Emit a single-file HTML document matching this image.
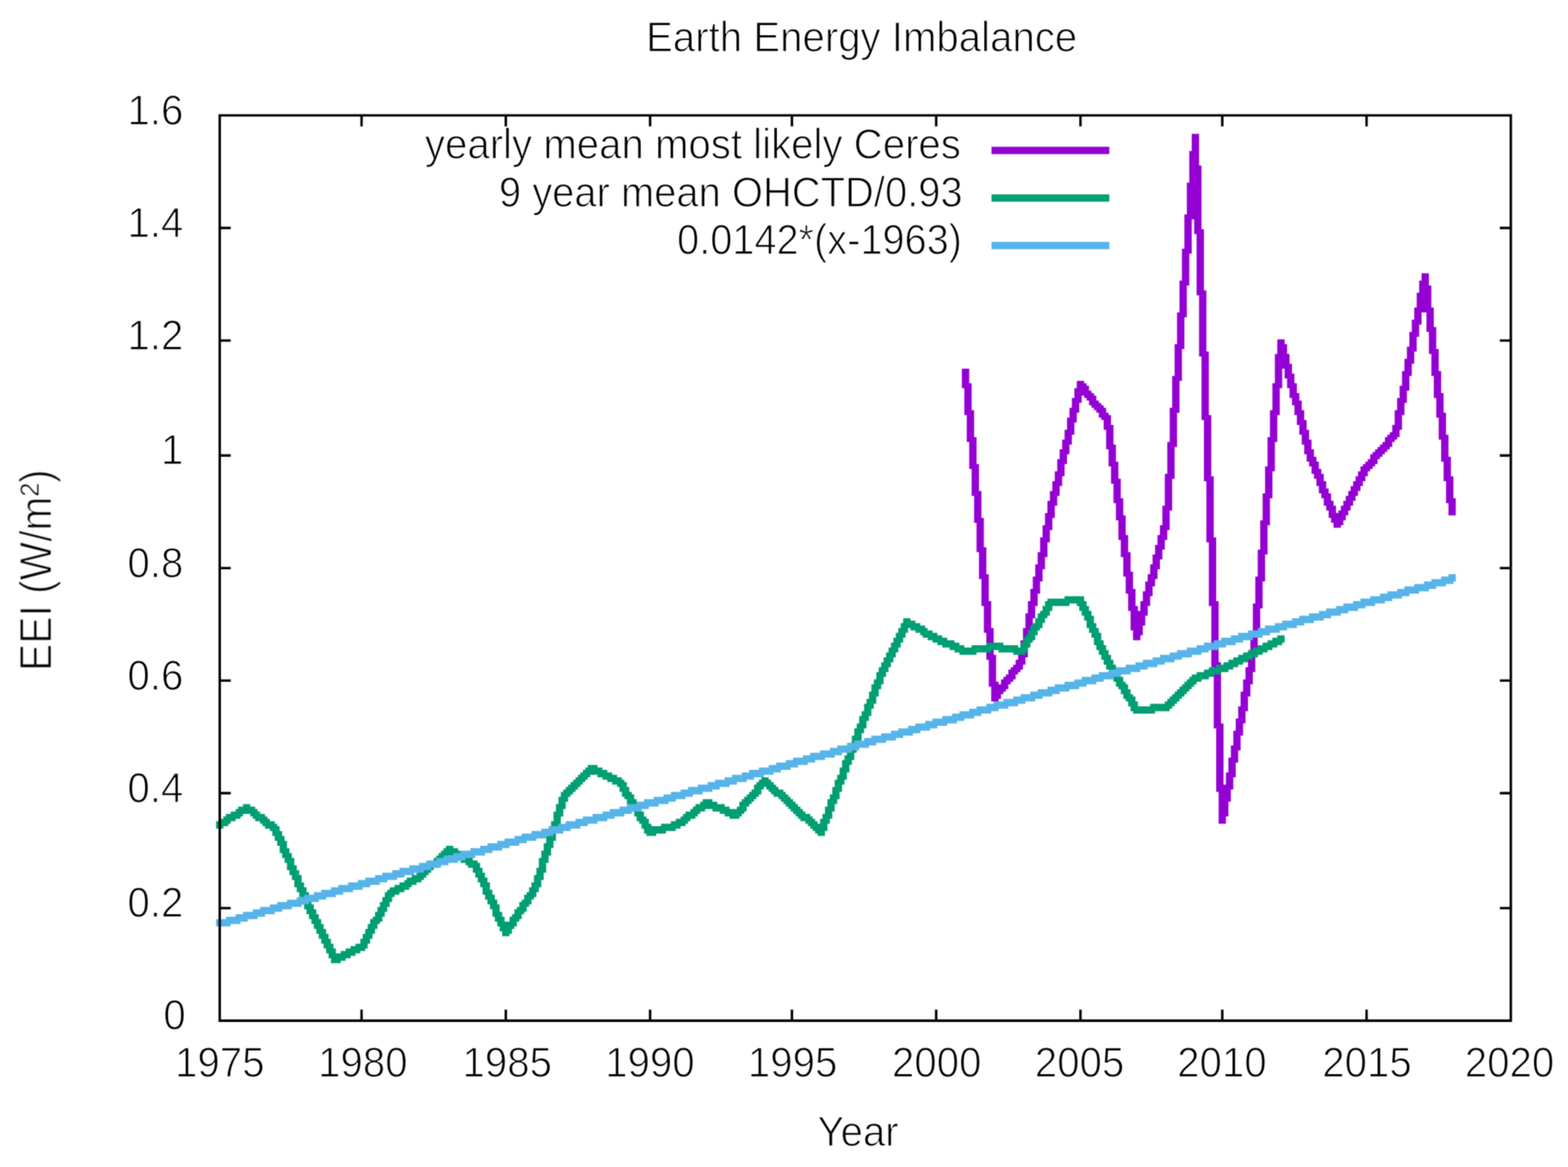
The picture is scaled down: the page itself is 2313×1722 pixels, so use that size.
<!DOCTYPE html>
<html lang="en"><head><meta charset="utf-8"><title>Earth Energy Imbalance</title>
<style>html,body{margin:0;padding:0;background:#ffffff}body{width:2313px;height:1722px;overflow:hidden}svg{display:block}</style></head>
<body>
<svg width="2313" height="1722" viewBox="0 0 2313 1722">
<defs><filter id="b" color-interpolation-filters="sRGB" x="0" y="0" width="2313" height="1722" filterUnits="userSpaceOnUse"><feConvolveMatrix order="3" kernelMatrix="0.0484 0.1232 0.0484 0.1232 0.3136 0.1232 0.0484 0.1232 0.0484" edgeMode="none" preserveAlpha="false"/></filter></defs>
<rect width="2313" height="1722" fill="#ffffff"/>
<g filter="url(#b)">
<g>
<path fill="#9400d3" d="M1757.94 197.38H1768.76V222.65H1757.94ZM1754.33 222.65H1768.76V244.31H1754.33ZM1754.33 244.31H1772.37V269.58H1754.33ZM1750.72 269.58H1772.37V316.52H1750.72ZM1747.12 316.52H1772.37V323.74H1747.12ZM1761.55 323.74H1772.37V338.18H1761.55ZM1761.55 338.18H1775.97V345.40H1761.55ZM1747.12 323.74H1757.94V367.06H1747.12ZM1743.51 367.06H1757.94V374.28H1743.51ZM1743.51 374.28H1754.33V413.99H1743.51ZM2097.00 403.16H2107.82V413.99H2097.00ZM1739.90 413.99H1754.33V421.21H1739.90ZM2093.40 413.99H2107.82V421.21H2093.40ZM1765.15 345.40H1775.97V428.43H1765.15ZM2093.40 421.21H2111.43V432.04H2093.40ZM1765.15 428.43H1779.58V435.65H1765.15ZM2089.79 432.04H2111.43V453.71H2089.79ZM1739.90 421.21H1750.72V460.93H1739.90ZM2086.18 453.71H2115.04V460.93H2086.18ZM1736.30 460.93H1750.72V468.15H1736.30ZM2086.18 460.93H2097.00V471.76H2086.18ZM2082.57 471.76H2097.00V478.98H2082.57ZM2104.22 460.93H2115.04V482.59H2104.22ZM2082.57 478.98H2093.40V489.81H2082.57ZM2104.22 482.59H2118.64V489.81H2104.22ZM2078.97 489.81H2093.40V497.03H2078.97ZM1736.30 468.15H1747.12V507.86H1736.30ZM1884.19 500.64H1895.01V507.86H1884.19ZM2078.97 497.03H2089.79V511.47H2078.97ZM2107.82 489.81H2118.64V515.08H2107.82ZM1732.69 507.86H1747.12V515.08H1732.69ZM1768.76 435.65H1779.58V518.69H1768.76ZM2075.36 511.47H2089.79V518.69H2075.36ZM1884.19 507.86H1898.61V522.30H1884.19ZM2107.82 515.08H2122.25V522.30H2107.82ZM1768.76 518.69H1783.19V525.91H1768.76ZM2075.36 518.69H2086.18V529.52H2075.36ZM1880.58 522.30H1902.22V536.74H1880.58ZM2071.75 529.52H2086.18V536.74H2071.75ZM1880.58 536.74H1905.83V543.96H1880.58ZM2111.43 522.30H2122.25V547.57H2111.43ZM2071.75 536.74H2082.57V547.57H2071.75ZM1895.01 543.96H1905.83V551.18H1895.01ZM1732.69 515.08H1743.51V554.79H1732.69ZM2068.15 547.57H2082.57V554.79H2068.15ZM2111.43 547.57H2125.86V554.79H2111.43ZM1895.01 551.18H1909.43V558.40H1895.01ZM1729.08 554.79H1743.51V562.01H1729.08ZM1880.58 543.96H1891.40V565.62H1880.58ZM1418.87 543.96H1429.70V565.62H1418.87ZM1898.61 558.40H1909.43V565.62H1898.61ZM1588.41 562.01H1599.23V565.62H1588.41ZM2068.15 554.79H2078.97V569.23H2068.15ZM1588.41 565.62H1602.83V569.23H1588.41ZM1876.97 565.62H1891.40V572.85H1876.97ZM1418.87 565.62H1433.30V572.85H1418.87ZM1898.61 565.62H1913.04V572.85H1898.61ZM1588.41 569.23H1606.44V572.85H1588.41ZM2064.54 569.23H2078.97V576.46H2064.54ZM1584.80 572.85H1606.44V576.46H1584.80ZM2115.04 554.79H2125.86V580.07H2115.04ZM1902.22 572.85H1913.04V580.07H1902.22ZM1584.80 576.46H1610.05V580.07H1584.80ZM1584.80 580.07H1613.66V583.68H1584.80ZM2064.54 576.46H2075.36V587.29H2064.54ZM1902.22 580.07H1916.65V587.29H1902.22ZM2115.04 580.07H2129.47V587.29H2115.04ZM1584.80 583.68H1595.62V587.29H1584.80ZM1599.23 583.68H1617.26V587.29H1599.23ZM1905.83 587.29H1916.65V590.90H1905.83ZM1602.83 587.29H1617.26V590.90H1602.83ZM1581.19 587.29H1595.62V594.51H1581.19ZM2060.93 587.29H2075.36V594.51H2060.93ZM1606.44 590.90H1620.87V594.51H1606.44ZM1905.83 590.90H1920.26V598.12H1905.83ZM1606.44 594.51H1624.48V598.12H1606.44ZM1729.08 562.01H1739.90V601.73H1729.08ZM1581.19 594.51H1592.01V601.73H1581.19ZM1610.05 598.12H1628.08V601.73H1610.05ZM1876.97 572.85H1887.79V605.34H1876.97ZM1422.48 572.85H1433.30V605.34H1422.48ZM2060.93 594.51H2071.75V605.34H2060.93ZM1909.43 598.12H1920.26V605.34H1909.43ZM1613.66 601.73H1631.69V605.34H1613.66ZM2118.64 587.29H2129.47V608.95H2118.64ZM1725.47 601.73H1739.90V608.95H1725.47ZM1577.58 601.73H1592.01V608.95H1577.58ZM1617.26 605.34H1631.69V608.95H1617.26ZM1772.37 525.91H1783.19V612.56H1772.37ZM1909.43 605.34H1923.86V612.56H1909.43ZM1422.48 605.34H1436.91V612.56H1422.48ZM1873.36 605.34H1887.79V612.56H1873.36ZM2057.32 605.34H2071.75V612.56H2057.32ZM1620.87 608.95H1635.30V612.56H1620.87ZM2118.64 608.95H2133.07V616.17H2118.64ZM1577.58 608.95H1588.41V616.17H1577.58ZM1620.87 612.56H1638.90V616.17H1620.87ZM1913.04 612.56H1923.86V619.78H1913.04ZM1772.37 612.56H1786.79V619.78H1772.37ZM1624.48 616.17H1638.90V619.78H1624.48ZM1573.98 616.17H1588.41V623.39H1573.98ZM2057.32 612.56H2068.15V627.00H2057.32ZM1628.08 619.78H1638.90V627.00H1628.08ZM1913.04 619.78H1927.47V627.00H1913.04ZM1573.98 623.39H1584.80V634.22H1573.98ZM1628.08 627.00H1642.51V634.22H1628.08ZM2053.72 627.00H2068.15V634.22H2053.72ZM1916.65 627.00H1927.47V634.22H1916.65ZM2053.72 634.22H2064.54V637.83H2053.72ZM2122.25 616.17H2133.07V641.44H2122.25ZM1916.65 634.22H1931.08V641.44H1916.65ZM1570.37 634.22H1584.80V641.44H1570.37ZM2050.11 637.83H2064.54V641.44H2050.11ZM1426.09 612.56H1436.91V645.05H1426.09ZM1873.36 612.56H1884.19V645.05H1873.36ZM2046.50 641.44H2064.54V645.05H2046.50ZM1920.26 641.44H1931.08V648.66H1920.26ZM2122.25 641.44H2136.68V648.66H2122.25ZM1570.37 641.44H1581.19V648.66H1570.37ZM2042.90 645.05H2060.93V648.66H2042.90ZM1725.47 608.95H1736.30V652.27H1725.47ZM1426.09 645.05H1440.52V652.27H1426.09ZM1869.76 645.05H1884.19V652.27H1869.76ZM2042.90 648.66H2057.32V652.27H2042.90ZM1631.69 634.22H1642.51V655.88H1631.69ZM1920.26 648.66H1934.68V655.88H1920.26ZM1566.76 648.66H1581.19V655.88H1566.76ZM2039.29 652.27H2053.72V655.88H2039.29ZM1721.87 652.27H1736.30V659.49H1721.87ZM2035.68 655.88H2053.72V659.49H2035.68ZM1923.86 655.88H1934.68V663.10H1923.86ZM1631.69 655.88H1646.12V663.10H1631.69ZM1566.76 655.88H1577.58V663.10H1566.76ZM2032.07 659.49H2050.11V663.10H2032.07ZM2028.47 663.10H2046.50V666.71H2028.47ZM1563.16 663.10H1577.58V670.32H1563.16ZM1923.86 663.10H1938.29V670.32H1923.86ZM2024.86 666.71H2042.90V670.32H2024.86ZM2125.86 648.66H2136.68V673.93H2125.86ZM2021.25 670.32H2039.29V673.93H2021.25ZM1927.47 670.32H1938.29V673.93H1927.47ZM1563.16 670.32H1573.98V677.54H1563.16ZM2021.25 673.93H2035.68V677.54H2021.25ZM1635.30 663.10H1646.12V681.15H1635.30ZM2125.86 673.93H2140.29V681.15H2125.86ZM1927.47 673.93H1941.90V681.15H1927.47ZM2017.65 677.54H2032.07V681.15H2017.65ZM1429.70 652.27H1440.52V684.76H1429.70ZM1559.55 677.54H1573.98V684.76H1559.55ZM2014.04 681.15H2032.07V684.76H2014.04ZM1869.76 652.27H1880.58V688.37H1869.76ZM1931.08 681.15H1945.51V688.37H1931.08ZM1635.30 681.15H1649.73V688.37H1635.30ZM2010.43 684.76H2028.47V688.37H2010.43ZM1429.70 684.76H1444.12V691.98H1429.70ZM1934.68 688.37H1945.51V691.98H1934.68ZM2006.83 688.37H2024.86V691.98H2006.83ZM1559.55 684.76H1570.37V695.59H1559.55ZM1866.15 688.37H1880.58V695.59H1866.15ZM2006.83 691.98H2021.25V695.59H2006.83ZM1721.87 659.49H1732.69V699.20H1721.87ZM1934.68 691.98H1949.11V699.20H1934.68ZM1775.97 619.78H1786.79V702.81H1775.97ZM2129.47 681.15H2140.29V702.81H2129.47ZM1555.94 695.59H1570.37V702.81H1555.94ZM2003.22 695.59H2017.65V702.81H2003.22ZM1638.90 688.37H1649.73V706.43H1638.90ZM1718.26 699.20H1732.69V706.43H1718.26ZM1938.29 699.20H1952.72V706.43H1938.29ZM1999.61 702.81H2014.04V710.04H1999.61ZM2129.47 702.81H2143.89V710.04H2129.47ZM1775.97 702.81H1790.40V710.04H1775.97ZM1555.94 702.81H1566.76V710.04H1555.94ZM1941.90 706.43H1952.72V710.04H1941.90ZM1638.90 706.43H1653.33V713.65H1638.90ZM1941.90 710.04H1956.33V717.26H1941.90ZM1996.00 710.04H2010.43V717.26H1996.00ZM1552.34 710.04H1566.76V717.26H1552.34ZM1945.51 717.26H1956.33V720.87H1945.51ZM1433.30 691.98H1444.12V724.48H1433.30ZM1552.34 717.26H1563.16V724.48H1552.34ZM1992.40 717.26H2006.83V724.48H1992.40ZM1866.15 695.59H1876.97V728.09H1866.15ZM1945.51 720.87H1959.93V728.09H1945.51ZM1433.30 724.48H1447.73V731.70H1433.30ZM1548.73 724.48H1563.16V731.70H1548.73ZM1988.79 724.48H2003.22V731.70H1988.79ZM2133.07 710.04H2143.89V735.31H2133.07ZM1642.51 713.65H1653.33V735.31H1642.51ZM1862.54 728.09H1876.97V735.31H1862.54ZM1949.11 728.09H1963.54V735.31H1949.11ZM1548.73 731.70H1559.55V738.92H1548.73ZM1985.18 731.70H1999.61V738.92H1985.18ZM1952.72 735.31H1963.54V738.92H1952.72ZM2133.07 735.31H2147.50V742.53H2133.07ZM1642.51 735.31H1656.94V742.53H1642.51ZM1718.26 706.43H1729.08V746.14H1718.26ZM1981.58 738.92H1996.00V746.14H1981.58ZM1952.72 738.92H1967.15V746.14H1952.72ZM1545.12 738.92H1559.55V746.14H1545.12ZM1956.33 746.14H1970.75V753.36H1956.33ZM1977.97 746.14H1992.40V753.36H1977.97ZM1714.65 746.14H1729.08V753.36H1714.65ZM1545.12 746.14H1555.94V756.97H1545.12ZM1974.36 753.36H1988.79V756.97H1974.36ZM1959.93 753.36H1970.75V756.97H1959.93ZM1646.12 742.53H1656.94V760.58H1646.12ZM2136.68 742.53H2147.50V760.58H2136.68ZM1959.93 756.97H1988.79V760.58H1959.93ZM1436.91 731.70H1447.73V764.19H1436.91ZM1541.51 756.97H1555.94V764.19H1541.51ZM1959.93 760.58H1985.18V764.19H1959.93ZM1862.54 735.31H1873.36V767.80H1862.54ZM1646.12 760.58H1660.55V767.80H1646.12ZM1963.54 764.19H1985.18V767.80H1963.54ZM1436.91 764.19H1451.34V771.41H1436.91ZM1963.54 767.80H1981.58V771.41H1963.54ZM1714.65 753.36H1725.47V775.02H1714.65ZM1541.51 764.19H1552.34V775.02H1541.51ZM1858.94 767.80H1873.36V775.02H1858.94ZM1967.15 771.41H1981.58V775.02H1967.15ZM1967.15 775.02H1977.97V778.63H1967.15ZM1711.05 775.02H1725.47V782.24H1711.05ZM1537.91 775.02H1552.34V782.24H1537.91ZM1649.73 767.80H1660.55V789.46H1649.73ZM1711.05 782.24H1721.87V789.46H1711.05ZM1779.58 710.04H1790.40V793.07H1779.58ZM1537.91 782.24H1548.73V793.07H1537.91ZM1649.73 789.46H1664.15V796.68H1649.73ZM1707.44 789.46H1721.87V796.68H1707.44ZM1534.30 793.07H1548.73V800.29H1534.30ZM1779.58 793.07H1794.01V800.29H1779.58ZM1707.44 796.68H1718.26V803.90H1707.44ZM1440.52 771.41H1451.34V807.51H1440.52ZM1858.94 775.02H1869.76V811.12H1858.94ZM1703.83 803.90H1718.26V811.12H1703.83ZM1653.33 796.68H1664.15V814.73H1653.33ZM1534.30 800.29H1545.12V814.73H1534.30ZM1440.52 807.51H1454.94V814.73H1440.52ZM1703.83 811.12H1714.65V818.34H1703.83ZM1855.33 811.12H1869.76V818.34H1855.33ZM1653.33 814.73H1667.76V821.95H1653.33ZM1530.69 814.73H1545.12V821.95H1530.69ZM1700.23 818.34H1714.65V825.56H1700.23ZM1530.69 821.95H1541.51V832.78H1530.69ZM1700.23 825.56H1711.05V832.78H1700.23ZM1527.09 832.78H1541.51V840.01H1527.09ZM1696.62 832.78H1711.05V840.01H1696.62ZM1656.94 821.95H1667.76V843.62H1656.94ZM1444.12 814.73H1454.94V847.23H1444.12ZM1696.62 840.01H1707.44V847.23H1696.62ZM1855.33 818.34H1866.15V850.84H1855.33ZM1527.09 840.01H1537.91V850.84H1527.09ZM1656.94 843.62H1671.37V850.84H1656.94ZM1444.12 847.23H1458.55V854.45H1444.12ZM1693.01 847.23H1707.44V854.45H1693.01ZM1851.72 850.84H1866.15V858.06H1851.72ZM1523.48 850.84H1537.91V858.06H1523.48ZM1693.01 854.45H1703.83V858.06H1693.01ZM1689.40 858.06H1703.83V865.28H1689.40ZM1660.55 850.84H1671.37V868.89H1660.55ZM1523.48 858.06H1534.30V868.89H1523.48ZM1689.40 865.28H1700.23V872.50H1689.40ZM1660.55 868.89H1674.98V876.11H1660.55ZM1519.87 868.89H1534.30V876.11H1519.87ZM1685.80 872.50H1700.23V879.72H1685.80ZM1783.19 800.29H1794.01V886.94H1783.19ZM1447.73 854.45H1458.55V886.94H1447.73ZM1519.87 876.11H1530.69V886.94H1519.87ZM1685.80 879.72H1696.62V886.94H1685.80ZM1851.72 858.06H1862.54V890.55H1851.72ZM1664.15 876.11H1674.98V894.16H1664.15ZM1783.19 886.94H1797.62V894.16H1783.19ZM1516.26 886.94H1530.69V894.16H1516.26ZM1447.73 886.94H1462.16V894.16H1447.73ZM1682.19 886.94H1696.62V894.16H1682.19ZM1848.11 890.55H1862.54V897.77H1848.11ZM1682.19 894.16H1693.01V901.38H1682.19ZM1664.15 894.16H1678.58V901.38H1664.15ZM1516.26 894.16H1527.09V904.99H1516.26ZM1667.76 901.38H1693.01V908.60H1667.76ZM1512.66 904.99H1527.09V912.21H1512.66ZM1667.76 908.60H1689.40V923.04H1667.76ZM1451.34 894.16H1462.16V926.65H1451.34ZM1512.66 912.21H1523.48V926.65H1512.66ZM1667.76 923.04H1685.80V930.26H1667.76ZM1848.11 897.77H1858.94V933.87H1848.11ZM1509.05 926.65H1523.48V933.87H1509.05ZM1451.34 926.65H1465.77V933.87H1451.34ZM1671.37 930.26H1685.80V937.48H1671.37ZM1844.51 933.87H1858.94V941.09H1844.51ZM1509.05 933.87H1519.87V944.70H1509.05ZM1671.37 937.48H1682.19V944.70H1671.37ZM1505.44 944.70H1519.87V951.92H1505.44ZM1844.51 941.09H1855.33V962.75H1844.51ZM1505.44 951.92H1516.26V962.75H1505.44ZM1454.94 933.87H1465.77V966.36H1454.94ZM1840.90 962.75H1855.33V969.97H1840.90ZM1501.84 962.75H1516.26V969.97H1501.84ZM1454.94 966.36H1469.37V973.59H1454.94ZM1501.84 969.97H1512.66V973.59H1501.84ZM1786.79 894.16H1797.62V977.20H1786.79ZM1498.23 973.59H1512.66V980.81H1498.23ZM1840.90 969.97H1851.72V984.42H1840.90ZM1786.79 977.20H1801.22V984.42H1786.79ZM1494.62 980.81H1509.05V984.42H1494.62ZM1491.02 984.42H1509.05V988.03H1491.02ZM1837.29 984.42H1851.72V991.64H1837.29ZM1487.41 988.03H1505.44V991.64H1487.41ZM1487.41 991.64H1501.84V995.25H1487.41ZM1483.80 995.25H1498.23V998.86H1483.80ZM1837.29 991.64H1848.11V1002.47H1837.29ZM1480.19 998.86H1498.23V1002.47H1480.19ZM1458.55 973.59H1469.37V1006.08H1458.55ZM1476.59 1002.47H1494.62V1006.08H1476.59ZM1833.69 1002.47H1848.11V1009.69H1833.69ZM1458.55 1006.08H1472.98V1009.69H1458.55ZM1476.59 1006.08H1491.02V1009.69H1476.59ZM1458.55 1009.69H1487.41V1013.30H1458.55ZM1462.16 1013.30H1487.41V1016.91H1462.16ZM1833.69 1009.69H1844.51V1020.52H1833.69ZM1462.16 1016.91H1483.80V1020.52H1462.16ZM1462.16 1020.52H1480.19V1024.13H1462.16ZM1830.08 1020.52H1844.51V1027.74H1830.08ZM1462.16 1024.13H1476.59V1031.35H1462.16ZM1462.16 1031.35H1472.98V1034.96H1462.16ZM1830.08 1027.74H1840.90V1042.18H1830.08ZM1826.47 1042.18H1840.90V1049.40H1826.47ZM1826.47 1049.40H1837.29V1060.23H1826.47ZM1790.40 984.42H1801.22V1067.45H1790.40ZM1822.87 1060.23H1837.29V1067.45H1822.87ZM1790.40 1067.45H1804.83V1074.67H1790.40ZM1822.87 1067.45H1833.69V1078.28H1822.87ZM1819.26 1078.28H1833.69V1085.50H1819.26ZM1819.26 1085.50H1830.08V1099.94H1819.26ZM1815.65 1099.94H1830.08V1107.17H1815.65ZM1815.65 1107.17H1826.47V1118.00H1815.65ZM1812.04 1118.00H1826.47V1125.22H1812.04ZM1812.04 1125.22H1822.87V1139.66H1812.04ZM1808.44 1139.66H1822.87V1146.88H1808.44ZM1794.01 1074.67H1804.83V1157.71H1794.01ZM1808.44 1146.88H1819.26V1157.71H1808.44ZM1794.01 1157.71H1819.26V1164.93H1794.01ZM1794.01 1164.93H1815.65V1168.54H1794.01ZM1797.62 1168.54H1815.65V1182.98H1797.62ZM1797.62 1182.98H1812.04V1204.64H1797.62ZM1797.62 1204.64H1808.44V1215.47H1797.62Z"/>
<path fill="#009e73" d="M1570.37 879.72H1599.23V883.33H1570.37ZM1545.12 883.33H1599.23V886.94H1545.12ZM1541.51 886.94H1602.83V890.55H1541.51ZM1588.41 890.55H1602.83V894.16H1588.41ZM1541.51 890.55H1577.58V894.16H1541.51ZM1537.91 894.16H1552.34V901.38H1537.91ZM1592.01 894.16H1606.44V901.38H1592.01ZM1534.30 901.38H1548.73V904.99H1534.30ZM1595.62 901.38H1610.05V908.60H1595.62ZM1530.69 904.99H1548.73V908.60H1530.69ZM1530.69 908.60H1545.12V912.21H1530.69ZM1599.23 908.60H1613.66V915.82H1599.23ZM1332.30 912.21H1343.13V915.82H1332.30ZM1527.09 912.21H1541.51V919.43H1527.09ZM1332.30 915.82H1350.34V919.43H1332.30ZM1602.83 915.82H1613.66V919.43H1602.83ZM1523.48 919.43H1537.91V923.04H1523.48ZM1328.70 919.43H1357.55V923.04H1328.70ZM1602.83 919.43H1617.26V926.65H1602.83ZM1328.70 923.04H1364.77V926.65H1328.70ZM1519.87 923.04H1537.91V926.65H1519.87ZM1343.13 926.65H1368.38V930.26H1343.13ZM1519.87 926.65H1534.30V930.26H1519.87ZM1606.44 926.65H1620.87V933.87H1606.44ZM1325.09 926.65H1339.52V933.87H1325.09ZM1350.34 930.26H1375.59V933.87H1350.34ZM1516.26 930.26H1530.69V937.48H1516.26ZM1357.55 933.87H1382.80V937.48H1357.55ZM1610.05 933.87H1624.48V941.09H1610.05ZM1321.48 933.87H1335.91V941.09H1321.48ZM1361.16 937.48H1390.02V941.09H1361.16ZM1512.66 937.48H1527.09V941.09H1512.66ZM1884.19 937.48H1895.01V941.09H1884.19ZM1368.38 941.09H1397.23V944.70H1368.38ZM1876.97 941.09H1895.01V944.70H1876.97ZM1509.05 941.09H1527.09V944.70H1509.05ZM1613.66 941.09H1624.48V944.70H1613.66ZM1317.88 941.09H1332.30V948.31H1317.88ZM1375.59 944.70H1408.05V948.31H1375.59ZM1869.76 944.70H1895.01V948.31H1869.76ZM1509.05 944.70H1523.48V948.31H1509.05ZM1613.66 944.70H1628.08V951.92H1613.66ZM1382.80 948.31H1415.27V951.92H1382.80ZM1862.54 948.31H1891.40V951.92H1862.54ZM1454.94 948.31H1480.19V951.92H1454.94ZM1314.27 948.31H1328.70V955.53H1314.27ZM1505.44 948.31H1519.87V955.53H1505.44ZM1433.30 951.92H1501.84V955.53H1433.30ZM1390.02 951.92H1422.48V955.53H1390.02ZM1855.33 951.92H1884.19V955.53H1855.33ZM1617.26 951.92H1631.69V959.14H1617.26ZM1400.84 955.53H1516.26V959.14H1400.84ZM1848.11 955.53H1876.97V959.14H1848.11ZM1310.66 955.53H1325.09V962.75H1310.66ZM1408.05 959.14H1462.16V962.75H1408.05ZM1472.98 959.14H1516.26V962.75H1472.98ZM1840.90 959.14H1869.76V962.75H1840.90ZM1620.87 959.14H1635.30V966.36H1620.87ZM1833.69 962.75H1862.54V966.36H1833.69ZM1415.27 962.75H1440.52V966.36H1415.27ZM1494.62 962.75H1512.66V966.36H1494.62ZM1307.06 962.75H1321.48V969.97H1307.06ZM1826.47 966.36H1855.33V969.97H1826.47ZM1624.48 966.36H1638.90V973.59H1624.48ZM1819.26 969.97H1848.11V973.59H1819.26ZM1303.45 969.97H1317.88V977.20H1303.45ZM1812.04 973.59H1840.90V977.20H1812.04ZM1628.08 973.59H1642.51V980.81H1628.08ZM1804.83 977.20H1833.69V980.81H1804.83ZM1299.84 977.20H1314.27V984.42H1299.84ZM1794.01 980.81H1826.47V984.42H1794.01ZM1631.69 980.81H1646.12V988.03H1631.69ZM1783.19 984.42H1819.26V988.03H1783.19ZM1296.23 984.42H1310.66V991.64H1296.23ZM1775.97 988.03H1812.04V991.64H1775.97ZM1635.30 988.03H1649.73V991.64H1635.30ZM1765.15 991.64H1801.22V995.25H1765.15ZM1635.30 991.64H1653.33V995.25H1635.30ZM1292.63 991.64H1307.06V998.86H1292.63ZM1757.94 995.25H1790.40V998.86H1757.94ZM1638.90 995.25H1653.33V998.86H1638.90ZM1754.33 998.86H1783.19V1002.47H1754.33ZM1292.63 998.86H1303.45V1002.47H1292.63ZM1642.51 998.86H1656.94V1006.08H1642.51ZM1750.72 1002.47H1772.37V1006.08H1750.72ZM1289.02 1002.47H1303.45V1009.69H1289.02ZM1646.12 1006.08H1660.55V1009.69H1646.12ZM1747.12 1006.08H1765.15V1009.69H1747.12ZM1743.51 1009.69H1761.55V1013.30H1743.51ZM1646.12 1009.69H1664.15V1013.30H1646.12ZM1285.41 1009.69H1299.84V1016.91H1285.41ZM1739.90 1013.30H1757.94V1016.91H1739.90ZM1649.73 1013.30H1664.15V1016.91H1649.73ZM1285.41 1016.91H1296.23V1020.52H1285.41ZM1736.30 1016.91H1754.33V1020.52H1736.30ZM1653.33 1016.91H1667.76V1024.13H1653.33ZM1732.69 1020.52H1750.72V1024.13H1732.69ZM1281.81 1020.52H1296.23V1027.74H1281.81ZM1656.94 1024.13H1671.37V1027.74H1656.94ZM1729.08 1024.13H1747.12V1027.74H1729.08ZM1281.81 1027.74H1292.63V1031.35H1281.81ZM1656.94 1027.74H1674.98V1031.35H1656.94ZM1725.47 1027.74H1743.51V1031.35H1725.47ZM1721.87 1031.35H1739.90V1034.96H1721.87ZM1660.55 1031.35H1674.98V1034.96H1660.55ZM1278.20 1031.35H1292.63V1038.57H1278.20ZM1718.26 1034.96H1736.30V1038.57H1718.26ZM1664.15 1034.96H1678.58V1042.18H1664.15ZM1696.62 1038.57H1732.69V1042.18H1696.62ZM1274.59 1038.57H1289.02V1045.79H1274.59ZM1667.76 1042.18H1729.08V1045.79H1667.76ZM1274.59 1045.79H1285.41V1049.40H1274.59ZM1667.76 1045.79H1725.47V1049.40H1667.76ZM1671.37 1049.40H1703.83V1053.01H1671.37ZM1270.98 1049.40H1285.41V1056.62H1270.98ZM1267.38 1056.62H1281.81V1063.84H1267.38ZM1267.38 1063.84H1278.20V1067.45H1267.38ZM1263.77 1067.45H1278.20V1074.67H1263.77ZM1260.16 1074.67H1274.59V1081.89H1260.16ZM1260.16 1081.89H1270.98V1085.50H1260.16ZM1256.56 1085.50H1270.98V1092.72H1256.56ZM1256.56 1092.72H1267.38V1096.33H1256.56ZM1252.95 1096.33H1267.38V1103.55H1252.95ZM1249.34 1103.55H1263.77V1110.78H1249.34ZM1249.34 1110.78H1260.16V1114.39H1249.34ZM1245.73 1114.39H1260.16V1121.61H1245.73ZM1242.13 1121.61H1256.56V1128.83H1242.13ZM1242.13 1128.83H1252.95V1132.44H1242.13ZM866.99 1128.83H881.42V1132.44H866.99ZM863.39 1132.44H888.64V1136.05H863.39ZM1238.52 1132.44H1252.95V1139.66H1238.52ZM859.78 1136.05H895.85V1139.66H859.78ZM1238.52 1139.66H1249.34V1143.27H1238.52ZM856.17 1139.66H903.06V1143.27H856.17ZM881.42 1143.27H910.28V1146.88H881.42ZM852.56 1143.27H870.60V1146.88H852.56ZM1234.91 1143.27H1249.34V1150.49H1234.91ZM1123.09 1146.88H1133.92V1150.49H1123.09ZM888.64 1146.88H917.49V1150.49H888.64ZM848.96 1146.88H866.99V1150.49H848.96ZM895.85 1150.49H921.10V1154.10H895.85ZM845.35 1150.49H863.39V1154.10H845.35ZM1119.49 1150.49H1137.52V1154.10H1119.49ZM1231.31 1150.49H1245.73V1157.71H1231.31ZM903.06 1154.10H924.71V1157.71H903.06ZM1115.88 1154.10H1141.13V1157.71H1115.88ZM841.74 1154.10H859.78V1157.71H841.74ZM1231.31 1157.71H1242.13V1161.32H1231.31ZM838.14 1157.71H856.17V1161.32H838.14ZM1112.27 1157.71H1144.74V1161.32H1112.27ZM910.28 1157.71H924.71V1161.32H910.28ZM834.53 1161.32H852.56V1164.93H834.53ZM1112.27 1161.32H1126.70V1164.93H1112.27ZM1130.31 1161.32H1148.34V1164.93H1130.31ZM1227.70 1161.32H1242.13V1168.54H1227.70ZM913.89 1161.32H928.31V1168.54H913.89ZM830.92 1164.93H848.96V1168.54H830.92ZM1108.67 1164.93H1123.09V1168.54H1108.67ZM1133.92 1164.93H1155.56V1168.54H1133.92ZM1105.06 1168.54H1123.09V1172.15H1105.06ZM827.32 1168.54H845.35V1172.15H827.32ZM1227.70 1168.54H1238.52V1172.15H1227.70ZM917.49 1168.54H931.92V1172.15H917.49ZM1137.52 1168.54H1159.17V1172.15H1137.52ZM917.49 1172.15H935.53V1175.76H917.49ZM1101.45 1172.15H1119.49V1175.76H1101.45ZM827.32 1172.15H841.74V1175.76H827.32ZM1141.13 1172.15H1162.77V1175.76H1141.13ZM1224.09 1172.15H1238.52V1179.37H1224.09ZM921.10 1175.76H935.53V1179.37H921.10ZM1148.34 1175.76H1166.38V1179.37H1148.34ZM1097.85 1175.76H1115.88V1179.37H1097.85ZM823.71 1175.76H838.14V1182.98H823.71ZM1094.24 1179.37H1112.27V1182.98H1094.24ZM1036.53 1179.37H1050.95V1182.98H1036.53ZM1151.95 1179.37H1169.99V1182.98H1151.95ZM924.71 1179.37H939.13V1186.59H924.71ZM1220.49 1179.37H1234.91V1186.59H1220.49ZM1032.92 1182.98H1058.17V1186.59H1032.92ZM1155.56 1182.98H1173.59V1186.59H1155.56ZM1090.63 1182.98H1108.67V1186.59H1090.63ZM823.71 1182.98H834.53V1186.59H823.71ZM358.40 1186.59H369.22V1190.20H358.40ZM1159.17 1186.59H1177.20V1190.20H1159.17ZM1025.70 1186.59H1068.99V1190.20H1025.70ZM1090.63 1186.59H1105.06V1190.20H1090.63ZM928.31 1186.59H942.74V1190.20H928.31ZM1220.49 1186.59H1231.31V1190.20H1220.49ZM820.10 1186.59H834.53V1193.81H820.10ZM1087.02 1190.20H1101.45V1193.81H1087.02ZM1022.10 1190.20H1076.20V1193.81H1022.10ZM1162.77 1190.20H1180.81V1193.81H1162.77ZM928.31 1190.20H946.35V1193.81H928.31ZM351.18 1190.20H376.43V1193.81H351.18ZM1216.88 1190.20H1231.31V1197.42H1216.88ZM931.92 1193.81H946.35V1197.42H931.92ZM347.58 1193.81H380.04V1197.42H347.58ZM1018.49 1193.81H1040.13V1197.42H1018.49ZM1050.95 1193.81H1101.45V1197.42H1050.95ZM820.10 1193.81H830.92V1197.42H820.10ZM1166.38 1193.81H1184.41V1197.42H1166.38ZM1216.88 1197.42H1227.70V1201.03H1216.88ZM340.36 1197.42H383.65V1201.03H340.36ZM1061.77 1197.42H1097.85V1201.03H1061.77ZM1011.28 1197.42H1032.92V1201.03H1011.28ZM1169.99 1197.42H1188.02V1201.03H1169.99ZM816.49 1197.42H830.92V1204.64H816.49ZM935.53 1197.42H949.96V1204.64H935.53ZM333.15 1201.03H358.40V1204.64H333.15ZM1007.67 1201.03H1029.31V1204.64H1007.67ZM369.22 1201.03H390.86V1204.64H369.22ZM1068.99 1201.03H1094.24V1204.64H1068.99ZM1173.59 1201.03H1195.24V1204.64H1173.59ZM1213.27 1201.03H1227.70V1208.25H1213.27ZM372.83 1204.64H394.47V1208.25H372.83ZM939.13 1204.64H953.56V1208.25H939.13ZM1076.20 1204.64H1090.63V1208.25H1076.20ZM329.54 1204.64H354.79V1208.25H329.54ZM1177.20 1204.64H1198.84V1208.25H1177.20ZM1004.06 1204.64H1025.70V1208.25H1004.06ZM816.49 1204.64H827.32V1211.86H816.49ZM1180.81 1208.25H1202.45V1211.86H1180.81ZM322.33 1208.25H347.58V1211.86H322.33ZM376.43 1208.25H398.07V1211.86H376.43ZM996.85 1208.25H1018.49V1211.86H996.85ZM939.13 1208.25H957.17V1211.86H939.13ZM1209.66 1208.25H1224.09V1215.47H1209.66ZM383.65 1211.86H405.29V1215.47H383.65ZM942.74 1211.86H957.17V1215.47H942.74ZM318.72 1211.86H340.36V1215.47H318.72ZM989.63 1211.86H1014.88V1215.47H989.63ZM1188.02 1211.86H1206.06V1215.47H1188.02ZM812.89 1211.86H827.32V1219.08H812.89ZM946.35 1215.47H960.78V1219.08H946.35ZM1191.63 1215.47H1220.49V1219.08H1191.63ZM318.72 1215.47H336.75V1219.08H318.72ZM975.21 1215.47H1011.28V1219.08H975.21ZM387.25 1215.47H408.90V1219.08H387.25ZM1195.24 1219.08H1220.49V1222.69H1195.24ZM318.72 1219.08H329.54V1222.69H318.72ZM946.35 1219.08H1004.06V1222.69H946.35ZM390.86 1219.08H412.50V1222.69H390.86ZM812.89 1219.08H823.71V1222.69H812.89ZM1198.84 1222.69H1220.49V1226.30H1198.84ZM398.07 1222.69H412.50V1226.30H398.07ZM949.96 1222.69H996.85V1226.30H949.96ZM809.28 1222.69H823.71V1229.91H809.28ZM949.96 1226.30H982.42V1229.91H949.96ZM1202.45 1226.30H1216.88V1229.91H1202.45ZM401.68 1226.30H416.11V1233.52H401.68ZM953.56 1229.91H967.99V1233.52H953.56ZM809.28 1229.91H820.10V1233.52H809.28ZM1206.06 1229.91H1216.88V1233.52H1206.06ZM805.67 1233.52H820.10V1240.75H805.67ZM405.29 1233.52H419.72V1240.75H405.29ZM805.67 1240.75H816.49V1244.36H805.67ZM408.90 1240.75H423.32V1247.97H408.90ZM802.07 1244.36H816.49V1251.58H802.07ZM412.50 1247.97H423.32V1251.58H412.50ZM657.78 1247.97H668.60V1251.58H657.78ZM654.18 1251.58H675.82V1255.19H654.18ZM802.07 1251.58H812.89V1255.19H802.07ZM412.50 1251.58H426.93V1258.80H412.50ZM650.57 1255.19H679.43V1258.80H650.57ZM798.46 1255.19H812.89V1262.41H798.46ZM646.96 1258.80H686.64V1262.41H646.96ZM416.11 1258.80H430.54V1266.02H416.11ZM798.46 1262.41H809.28V1266.02H798.46ZM643.36 1262.41H661.39V1266.02H643.36ZM668.60 1262.41H693.85V1266.02H668.60ZM639.75 1266.02H657.78V1269.63H639.75ZM672.21 1266.02H697.46V1269.63H672.21ZM794.85 1266.02H809.28V1273.24H794.85ZM419.72 1266.02H434.15V1273.24H419.72ZM632.53 1269.63H654.18V1273.24H632.53ZM679.43 1269.63H704.68V1273.24H679.43ZM423.32 1273.24H434.15V1276.85H423.32ZM686.64 1273.24H708.28V1276.85H686.64ZM628.93 1273.24H650.57V1276.85H628.93ZM794.85 1273.24H805.67V1280.46H794.85ZM625.32 1276.85H646.96V1280.46H625.32ZM690.25 1276.85H708.28V1280.46H690.25ZM423.32 1276.85H437.75V1284.07H423.32ZM621.71 1280.46H639.75V1284.07H621.71ZM697.46 1280.46H711.89V1287.68H697.46ZM791.24 1280.46H805.67V1287.68H791.24ZM618.11 1284.07H636.14V1287.68H618.11ZM426.93 1284.07H441.36V1291.29H426.93ZM614.50 1287.68H632.53V1291.29H614.50ZM791.24 1287.68H802.07V1291.29H791.24ZM701.07 1287.68H715.50V1294.90H701.07ZM607.28 1291.29H628.93V1294.90H607.28ZM430.54 1291.29H444.97V1298.51H430.54ZM787.64 1291.29H802.07V1298.51H787.64ZM600.07 1294.90H625.32V1298.51H600.07ZM704.68 1294.90H719.10V1302.12H704.68ZM596.46 1298.51H621.71V1302.12H596.46ZM787.64 1298.51H798.46V1302.12H787.64ZM434.15 1298.51H444.97V1302.12H434.15ZM589.25 1302.12H614.50V1305.73H589.25ZM708.28 1302.12H722.71V1309.34H708.28ZM784.03 1302.12H798.46V1309.34H784.03ZM434.15 1302.12H448.57V1309.34H434.15ZM582.04 1305.73H607.28V1309.34H582.04ZM711.89 1309.34H722.71V1312.95H711.89ZM574.82 1309.34H603.68V1312.95H574.82ZM780.42 1309.34H794.85V1316.56H780.42ZM437.75 1309.34H452.18V1316.56H437.75ZM571.21 1312.95H596.46V1316.56H571.21ZM711.89 1312.95H726.32V1320.17H711.89ZM567.61 1316.56H589.25V1320.17H567.61ZM776.82 1316.56H791.24V1320.17H776.82ZM441.36 1316.56H455.79V1323.78H441.36ZM567.61 1320.17H582.04V1323.78H567.61ZM773.21 1320.17H791.24V1323.78H773.21ZM715.50 1320.17H729.92V1327.39H715.50ZM773.21 1323.78H787.64V1327.39H773.21ZM444.97 1323.78H455.79V1327.39H444.97ZM564.00 1323.78H578.43V1331.00H564.00ZM769.60 1327.39H784.03V1331.00H769.60ZM719.10 1327.39H733.53V1334.61H719.10ZM444.97 1327.39H459.39V1334.61H444.97ZM766.00 1331.00H784.03V1334.61H766.00ZM560.39 1331.00H574.82V1338.22H560.39ZM766.00 1334.61H780.42V1338.22H766.00ZM448.57 1334.61H463.00V1341.83H448.57ZM722.71 1334.61H737.14V1341.83H722.71ZM762.39 1338.22H776.82V1341.83H762.39ZM556.79 1338.22H571.21V1345.44H556.79ZM758.78 1341.83H776.82V1345.44H758.78ZM726.32 1341.83H737.14V1345.44H726.32ZM452.18 1341.83H466.61V1349.05H452.18ZM758.78 1345.44H773.21V1349.05H758.78ZM726.32 1345.44H740.75V1352.66H726.32ZM553.18 1345.44H567.61V1352.66H553.18ZM755.17 1349.05H769.60V1352.66H755.17ZM455.79 1349.05H470.22V1356.27H455.79ZM751.57 1352.66H769.60V1356.27H751.57ZM549.57 1352.66H564.00V1356.27H549.57ZM729.92 1352.66H744.35V1359.88H729.92ZM751.57 1356.27H766.00V1359.88H751.57ZM545.96 1356.27H564.00V1359.88H545.96ZM459.39 1356.27H473.82V1363.49H459.39ZM545.96 1359.88H560.39V1363.49H545.96ZM733.53 1359.88H762.39V1367.10H733.53ZM463.00 1363.49H477.43V1370.71H463.00ZM542.36 1363.49H556.79V1370.71H542.36ZM737.14 1367.10H758.78V1370.71H737.14ZM737.14 1370.71H755.17V1374.33H737.14ZM538.75 1370.71H553.18V1377.94H538.75ZM466.61 1370.71H481.04V1377.94H466.61ZM740.75 1374.33H755.17V1377.94H740.75ZM740.75 1377.94H751.57V1381.55H740.75ZM535.14 1377.94H549.57V1385.16H535.14ZM470.22 1377.94H484.64V1385.16H470.22ZM531.54 1385.16H545.96V1392.38H531.54ZM473.82 1385.16H488.25V1392.38H473.82ZM524.32 1392.38H542.36V1395.99H524.32ZM477.43 1392.38H491.86V1399.60H477.43ZM517.11 1395.99H542.36V1399.60H517.11ZM509.89 1399.60H538.75V1403.21H509.89ZM481.04 1399.60H495.47V1406.82H481.04ZM502.68 1403.21H531.54V1406.82H502.68ZM484.64 1406.82H524.32V1410.43H484.64ZM484.64 1410.43H517.11V1414.04H484.64ZM488.25 1414.04H509.89V1417.65H488.25ZM488.25 1417.65H502.68V1421.26H488.25Z"/>
<path fill="#56b4e9" d="M2136.68 847.23H2147.50V850.84H2136.68ZM2125.86 850.84H2147.50V854.45H2125.86ZM2111.43 854.45H2147.50V858.06H2111.43ZM2100.61 858.06H2143.89V861.67H2100.61ZM2086.18 861.67H2133.07V865.28H2086.18ZM2071.75 865.28H2118.64V868.89H2071.75ZM2060.93 868.89H2107.82V872.50H2060.93ZM2046.50 872.50H2093.40V876.11H2046.50ZM2035.68 876.11H2078.97V879.72H2035.68ZM2021.25 879.72H2068.15V883.33H2021.25ZM2006.83 883.33H2053.72V886.94H2006.83ZM1996.00 886.94H2042.90V890.55H1996.00ZM1981.58 890.55H2028.47V894.16H1981.58ZM1970.75 894.16H2014.04V897.77H1970.75ZM1956.33 897.77H2003.22V901.38H1956.33ZM1945.51 901.38H1988.79V904.99H1945.51ZM1931.08 904.99H1977.97V908.60H1931.08ZM1916.65 908.60H1963.54V912.21H1916.65ZM1905.83 912.21H1952.72V915.82H1905.83ZM1891.40 915.82H1938.29V919.43H1891.40ZM1880.58 919.43H1923.86V923.04H1880.58ZM1866.15 923.04H1913.04V926.65H1866.15ZM1855.33 926.65H1898.61V930.26H1855.33ZM1840.90 930.26H1887.79V933.87H1840.90ZM1826.47 933.87H1873.36V937.48H1826.47ZM1815.65 937.48H1862.54V941.09H1815.65ZM1801.22 941.09H1848.11V944.70H1801.22ZM1790.40 944.70H1833.69V948.31H1790.40ZM1775.97 948.31H1822.87V951.92H1775.97ZM1765.15 951.92H1808.44V955.53H1765.15ZM1750.72 955.53H1797.62V959.14H1750.72ZM1736.30 959.14H1783.19V962.75H1736.30ZM1725.47 962.75H1772.37V966.36H1725.47ZM1711.05 966.36H1757.94V969.97H1711.05ZM1700.23 969.97H1743.51V973.59H1700.23ZM1685.80 973.59H1732.69V977.20H1685.80ZM1674.98 977.20H1718.26V980.81H1674.98ZM1660.55 980.81H1707.44V984.42H1660.55ZM1646.12 984.42H1693.01V988.03H1646.12ZM1635.30 988.03H1682.19V991.64H1635.30ZM1620.87 991.64H1667.76V995.25H1620.87ZM1610.05 995.25H1653.33V998.86H1610.05ZM1595.62 998.86H1642.51V1002.47H1595.62ZM1584.80 1002.47H1628.08V1006.08H1584.80ZM1570.37 1006.08H1617.26V1009.69H1570.37ZM1555.94 1009.69H1602.83V1013.30H1555.94ZM1545.12 1013.30H1592.01V1016.91H1545.12ZM1530.69 1016.91H1577.58V1020.52H1530.69ZM1519.87 1020.52H1563.16V1024.13H1519.87ZM1505.44 1024.13H1552.34V1027.74H1505.44ZM1494.62 1027.74H1537.91V1031.35H1494.62ZM1480.19 1031.35H1527.09V1034.96H1480.19ZM1465.77 1034.96H1512.66V1038.57H1465.77ZM1454.94 1038.57H1501.84V1042.18H1454.94ZM1440.52 1042.18H1487.41V1045.79H1440.52ZM1429.70 1045.79H1472.98V1049.40H1429.70ZM1415.27 1049.40H1462.16V1053.01H1415.27ZM1404.45 1053.01H1447.73V1056.62H1404.45ZM1390.02 1056.62H1436.91V1060.23H1390.02ZM1375.59 1060.23H1422.48V1063.84H1375.59ZM1364.77 1063.84H1411.66V1067.45H1364.77ZM1350.34 1067.45H1397.23V1071.06H1350.34ZM1339.52 1071.06H1382.80V1074.67H1339.52ZM1325.09 1074.67H1371.98V1078.28H1325.09ZM1314.27 1078.28H1357.55V1081.89H1314.27ZM1299.84 1081.89H1346.73V1085.50H1299.84ZM1285.41 1085.50H1332.30V1089.11H1285.41ZM1274.59 1089.11H1321.48V1092.72H1274.59ZM1260.16 1092.72H1307.06V1096.33H1260.16ZM1249.34 1096.33H1292.63V1099.94H1249.34ZM1234.91 1099.94H1281.81V1103.55H1234.91ZM1224.09 1103.55H1267.38V1107.17H1224.09ZM1209.66 1107.17H1256.56V1110.78H1209.66ZM1195.24 1110.78H1242.13V1114.39H1195.24ZM1184.41 1114.39H1231.31V1118.00H1184.41ZM1169.99 1118.00H1216.88V1121.61H1169.99ZM1159.17 1121.61H1202.45V1125.22H1159.17ZM1144.74 1125.22H1191.63V1128.83H1144.74ZM1133.92 1128.83H1177.20V1132.44H1133.92ZM1119.49 1132.44H1166.38V1136.05H1119.49ZM1105.06 1136.05H1151.95V1139.66H1105.06ZM1094.24 1139.66H1141.13V1143.27H1094.24ZM1079.81 1143.27H1126.70V1146.88H1079.81ZM1068.99 1146.88H1112.27V1150.49H1068.99ZM1054.56 1150.49H1101.45V1154.10H1054.56ZM1043.74 1154.10H1087.02V1157.71H1043.74ZM1029.31 1157.71H1076.20V1161.32H1029.31ZM1014.88 1161.32H1061.77V1164.93H1014.88ZM1004.06 1164.93H1050.95V1168.54H1004.06ZM989.63 1168.54H1036.53V1172.15H989.63ZM978.81 1172.15H1022.10V1175.76H978.81ZM964.38 1175.76H1011.28V1179.37H964.38ZM949.96 1179.37H996.85V1182.98H949.96ZM939.13 1182.98H986.03V1186.59H939.13ZM924.71 1186.59H971.60V1190.20H924.71ZM913.89 1190.20H957.17V1193.81H913.89ZM899.46 1193.81H946.35V1197.42H899.46ZM888.64 1197.42H931.92V1201.03H888.64ZM874.21 1201.03H921.10V1204.64H874.21ZM859.78 1204.64H906.67V1208.25H859.78ZM848.96 1208.25H895.85V1211.86H848.96ZM834.53 1211.86H881.42V1215.47H834.53ZM823.71 1215.47H866.99V1219.08H823.71ZM809.28 1219.08H856.17V1222.69H809.28ZM798.46 1222.69H841.74V1226.30H798.46ZM784.03 1226.30H830.92V1229.91H784.03ZM769.60 1229.91H816.49V1233.52H769.60ZM758.78 1233.52H805.67V1237.13H758.78ZM744.35 1237.13H791.24V1240.75H744.35ZM733.53 1240.75H776.82V1244.36H733.53ZM719.10 1244.36H766.00V1247.97H719.10ZM708.28 1247.97H751.57V1251.58H708.28ZM693.85 1251.58H740.75V1255.19H693.85ZM679.43 1255.19H726.32V1258.80H679.43ZM668.60 1258.80H715.50V1262.41H668.60ZM654.18 1262.41H701.07V1266.02H654.18ZM643.36 1266.02H686.64V1269.63H643.36ZM628.93 1269.63H675.82V1273.24H628.93ZM618.11 1273.24H661.39V1276.85H618.11ZM603.68 1276.85H650.57V1280.46H603.68ZM589.25 1280.46H636.14V1284.07H589.25ZM578.43 1284.07H625.32V1287.68H578.43ZM564.00 1287.68H610.89V1291.29H564.00ZM553.18 1291.29H596.46V1294.90H553.18ZM538.75 1294.90H585.64V1298.51H538.75ZM527.93 1298.51H571.21V1302.12H527.93ZM513.50 1302.12H560.39V1305.73H513.50ZM499.07 1305.73H545.96V1309.34H499.07ZM488.25 1309.34H535.14V1312.95H488.25ZM473.82 1312.95H520.72V1316.56H473.82ZM463.00 1316.56H506.29V1320.17H463.00ZM448.57 1320.17H495.47V1323.78H448.57ZM437.75 1323.78H481.04V1327.39H437.75ZM423.32 1327.39H470.22V1331.00H423.32ZM408.90 1331.00H455.79V1334.61H408.90ZM398.07 1334.61H444.97V1338.22H398.07ZM383.65 1338.22H430.54V1341.83H383.65ZM372.83 1341.83H416.11V1345.44H372.83ZM358.40 1345.44H405.29V1349.05H358.40ZM347.58 1349.05H390.86V1352.66H347.58ZM333.15 1352.66H380.04V1356.27H333.15ZM318.72 1356.27H365.61V1359.88H318.72ZM318.72 1359.88H354.79V1363.49H318.72ZM318.72 1363.49H340.36V1367.10H318.72Z"/>
<rect x="1462.60" y="216.58" width="173.80" height="10.83" fill="#9400d3"/>
<rect x="1462.60" y="286.78" width="173.80" height="10.83" fill="#009e73"/>
<rect x="1462.60" y="356.88" width="173.80" height="10.83" fill="#56b4e9"/>
<path fill="#000" d="M322.33 168.49H2230.46V172.11H322.33ZM322.33 1504.29H2230.46V1507.91H322.33ZM322.33 168.49H325.93V1507.91H322.33ZM2226.86 168.49H2230.46V1507.91H2226.86ZM322.33 1489.85H325.93V1507.91H322.33ZM322.33 168.49H325.93V186.55H322.33ZM531.54 1489.85H535.14V1507.91H531.54ZM531.54 168.49H535.14V186.55H531.54ZM744.35 1489.85H747.96V1507.91H744.35ZM744.35 168.49H747.96V186.55H744.35ZM957.17 1489.85H960.78V1507.91H957.17ZM957.17 168.49H960.78V186.55H957.17ZM1166.38 1489.85H1169.99V1507.91H1166.38ZM1166.38 168.49H1169.99V186.55H1166.38ZM1379.20 1489.85H1382.80V1507.91H1379.20ZM1379.20 168.49H1382.80V186.55H1379.20ZM1592.01 1489.85H1595.62V1507.91H1592.01ZM1592.01 168.49H1595.62V186.55H1592.01ZM1801.22 1489.85H1804.83V1507.91H1801.22ZM1801.22 168.49H1804.83V186.55H1801.22ZM2014.04 1489.85H2017.65V1507.91H2014.04ZM2014.04 168.49H2017.65V186.55H2014.04ZM2226.86 1489.85H2230.46V1507.91H2226.86ZM2226.86 168.49H2230.46V186.55H2226.86ZM322.33 168.49H340.36V172.11H322.33ZM2212.43 168.49H2230.46V172.11H2212.43ZM322.33 334.57H340.36V338.18H322.33ZM2212.43 334.57H2230.46V338.18H2212.43ZM322.33 500.64H340.36V504.25H322.33ZM2212.43 500.64H2230.46V504.25H2212.43ZM322.33 670.32H340.36V673.93H322.33ZM2212.43 670.32H2230.46V673.93H2212.43ZM322.33 836.39H340.36V840.01H322.33ZM2212.43 836.39H2230.46V840.01H2212.43ZM322.33 1002.47H340.36V1006.08H322.33ZM2212.43 1002.47H2230.46V1006.08H2212.43ZM322.33 1168.54H340.36V1172.15H322.33ZM2212.43 1168.54H2230.46V1172.15H2212.43ZM322.33 1338.22H340.36V1341.83H322.33ZM2212.43 1338.22H2230.46V1341.83H2212.43ZM322.33 1504.29H340.36V1507.91H322.33ZM2212.43 1504.29H2230.46V1507.91H2212.43Z"/>
</g>
<g style="font-family:&quot;Liberation Sans&quot;,Arial,Helvetica,sans-serif;font-size:59.3px" fill="#000" stroke="#ffffff" stroke-width="1.4">
<text id="title" transform="translate(1271.00 76.00) scale(1.0 1.075)" text-anchor="middle">Earth Energy Imbalance</text>
<text id="yl0" transform="translate(270.50 183.60) scale(1.0 1.075)" text-anchor="end">1.6</text>
<text id="yl1" transform="translate(270.50 349.67) scale(1.0 1.075)" text-anchor="end">1.4</text>
<text id="yl2" transform="translate(270.50 515.74) scale(1.0 1.075)" text-anchor="end">1.2</text>
<text id="yl3" transform="translate(270.50 685.43) scale(1.0 1.075)" text-anchor="end">1</text>
<text id="yl4" transform="translate(270.50 851.50) scale(1.0 1.075)" text-anchor="end">0.8</text>
<text id="yl5" transform="translate(270.50 1017.57) scale(1.0 1.075)" text-anchor="end">0.6</text>
<text id="yl6" transform="translate(270.50 1183.64) scale(1.0 1.075)" text-anchor="end">0.4</text>
<text id="yl7" transform="translate(270.50 1353.33) scale(1.0 1.075)" text-anchor="end">0.2</text>
<text id="yl8" transform="translate(274.00 1519.40) scale(1.0 1.075)" text-anchor="end">0</text>
<text id="xl0" transform="translate(324.20 1588.80) scale(1.0 1.075)" text-anchor="middle">1975</text>
<text id="xl1" transform="translate(535.20 1588.80) scale(1.0 1.075)" text-anchor="middle">1980</text>
<text id="xl2" transform="translate(748.20 1588.80) scale(1.0 1.075)" text-anchor="middle">1985</text>
<text id="xl3" transform="translate(958.70 1588.80) scale(1.0 1.075)" text-anchor="middle">1990</text>
<text id="xl4" transform="translate(1169.30 1588.80) scale(1.0 1.075)" text-anchor="middle">1995</text>
<text id="xl5" transform="translate(1381.75 1588.80) scale(1.0 1.075)" text-anchor="middle">2000</text>
<text id="xl6" transform="translate(1592.50 1588.80) scale(1.0 1.075)" text-anchor="middle">2005</text>
<text id="xl7" transform="translate(1802.40 1588.80) scale(1.0 1.075)" text-anchor="middle">2010</text>
<text id="xl8" transform="translate(2016.50 1588.80) scale(1.0 1.075)" text-anchor="middle">2015</text>
<text id="xl9" transform="translate(2226.80 1588.80) scale(1.0 1.075)" text-anchor="middle">2020</text>
<text id="xlabel" transform="translate(1265.70 1690.60) scale(1.0 1.075)" text-anchor="middle">Year</text>
<text id="lg0" transform="translate(1417.50 234.40) scale(1.0 1.075)" text-anchor="end">yearly mean most likely Ceres</text>
<text id="lg1" transform="translate(1420.00 304.80) scale(0.993 1.075)" text-anchor="end">9 year mean OHCTD/0.93</text>
<text id="lg2" transform="translate(1419.00 374.60) scale(0.988 1.075)" text-anchor="end">0.0142*(x-1963)</text>
<text id="ylabel" transform="translate(75.30 841.30) rotate(-90) scale(1.015 1.1179999999999999)" text-anchor="middle">EEI (W/m²)</text>
</g>
</g>
</svg>
</body></html>
